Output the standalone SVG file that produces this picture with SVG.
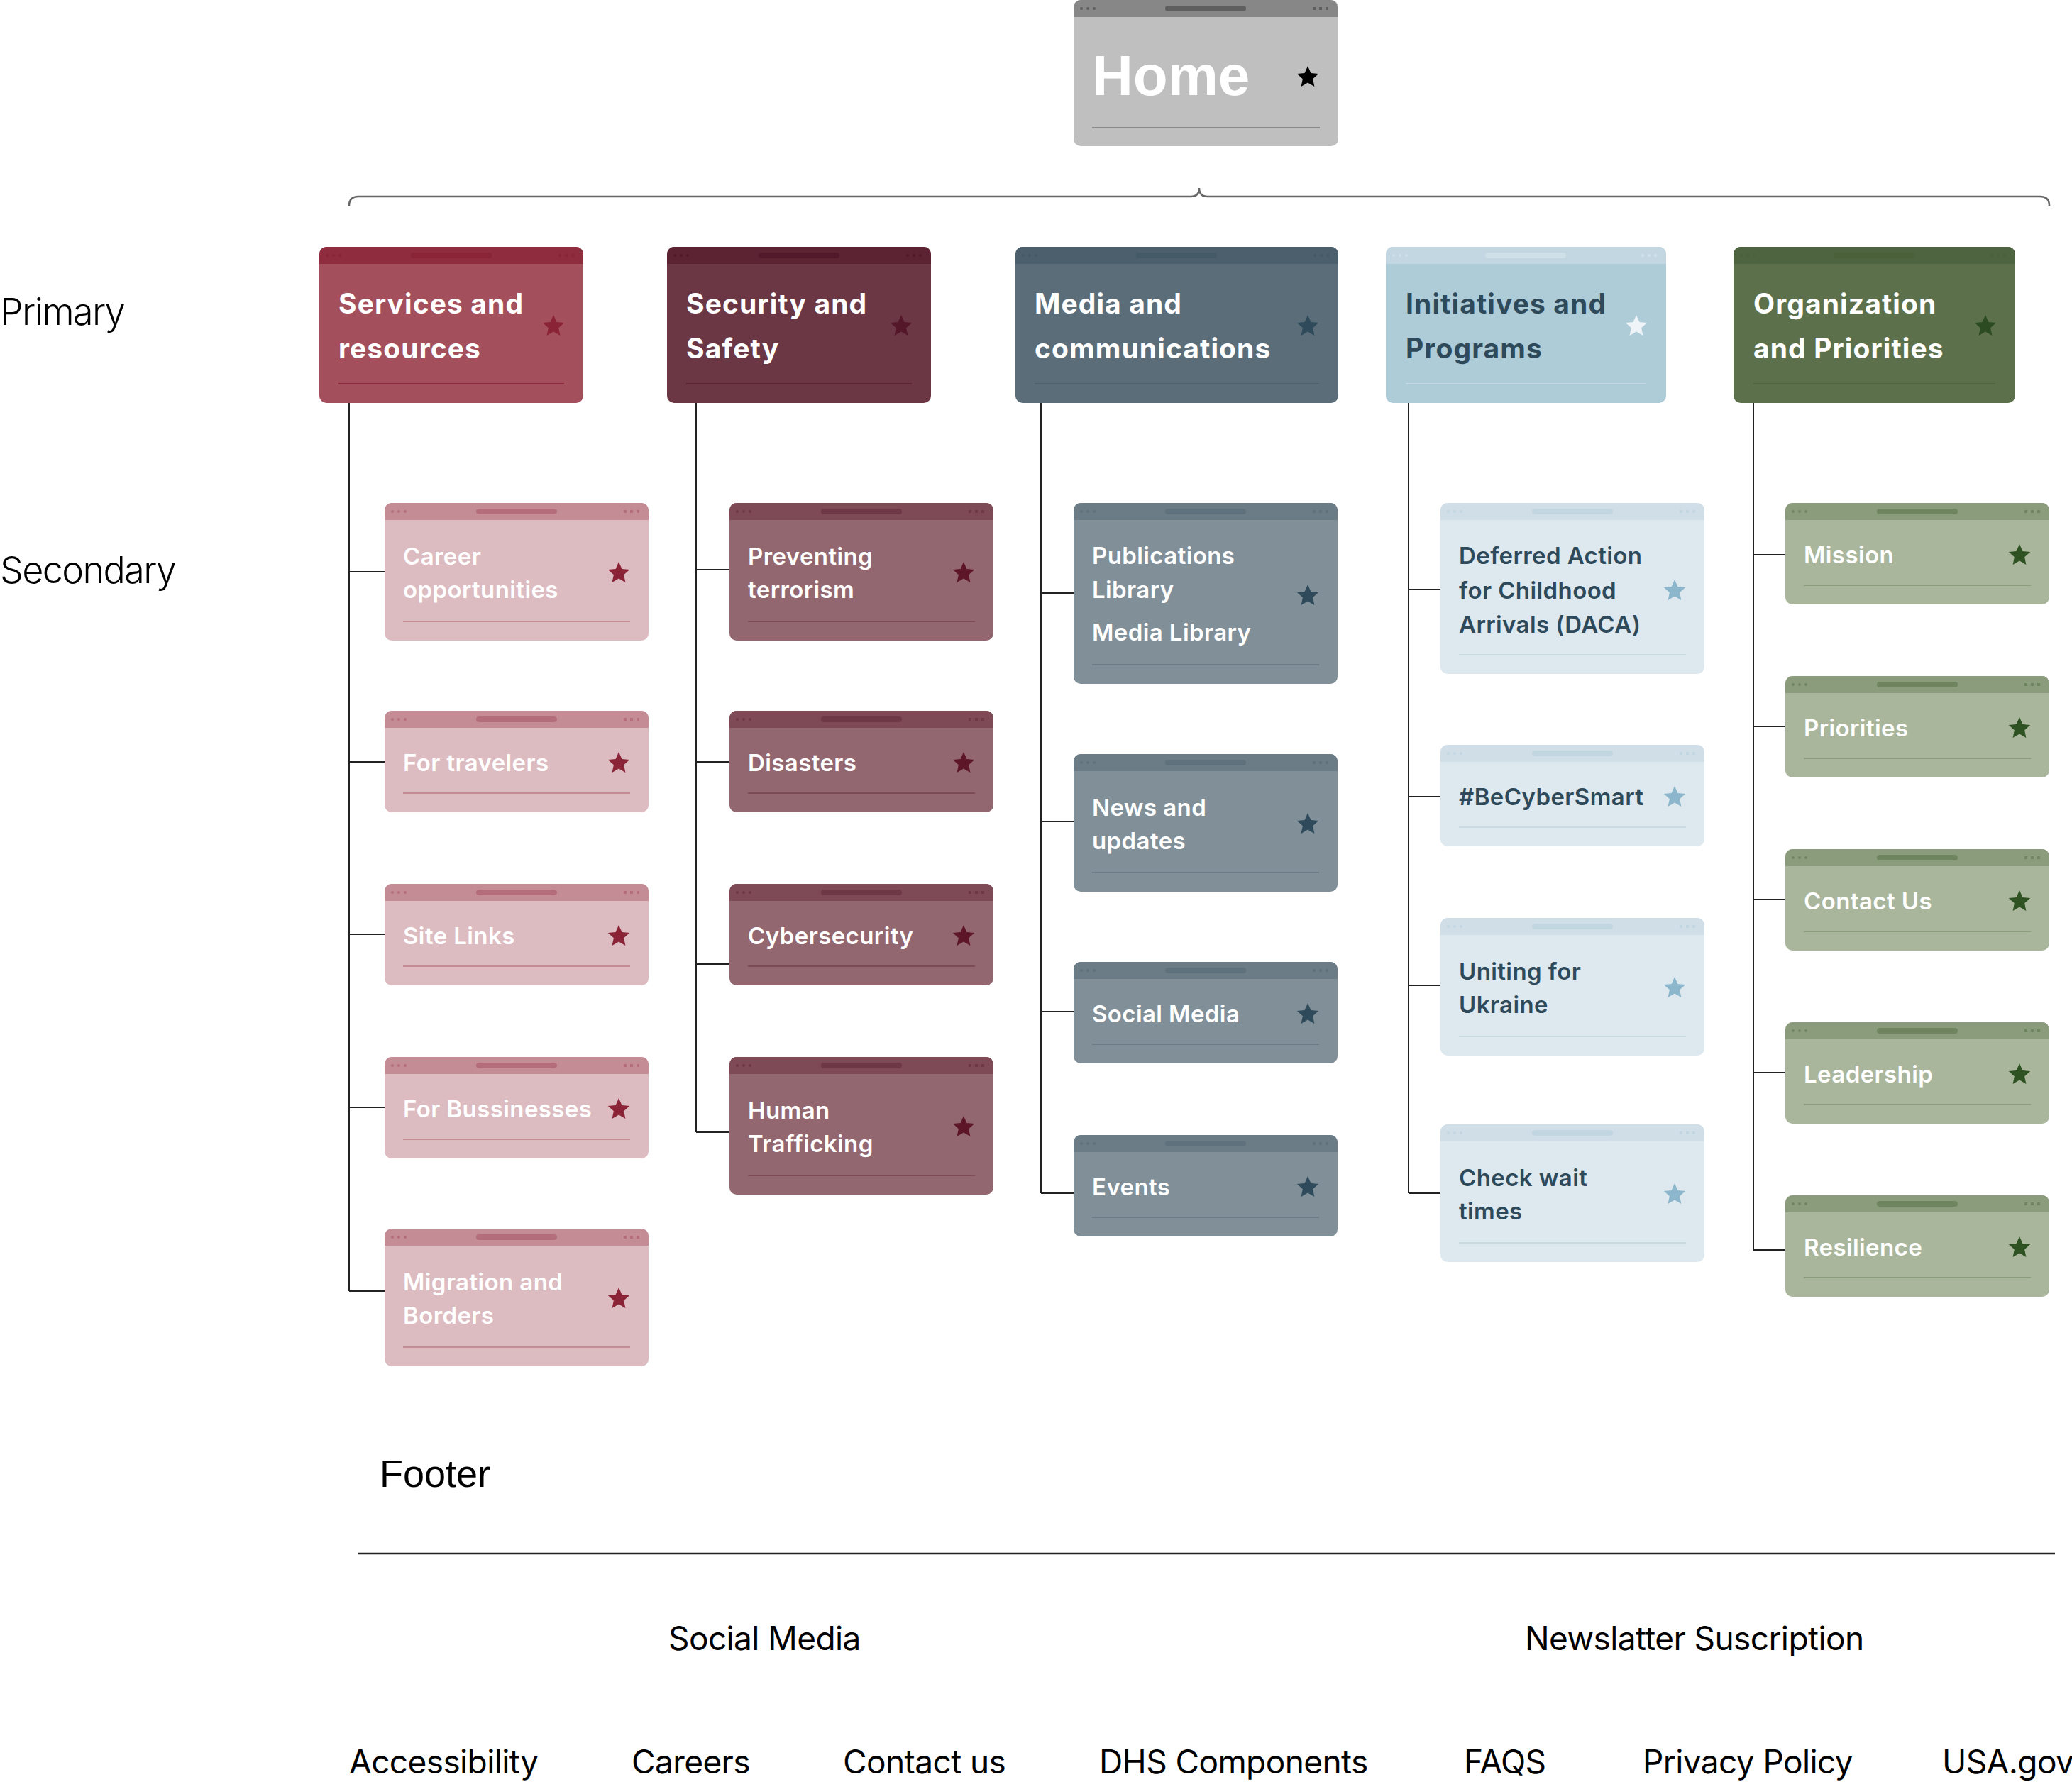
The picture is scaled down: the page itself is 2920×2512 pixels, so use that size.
<svg xmlns="http://www.w3.org/2000/svg" xmlns:xlink="http://www.w3.org/1999/xlink" width="2920" height="2512" viewBox="0 0 2920 2512">
  <style>
    .t1{font-family:Inter,"Noto Sans",sans-serif;font-weight:700;font-size:39px;letter-spacing:1.1px}
    .t2{font-family:Inter,"Noto Sans",sans-serif;font-weight:600;font-size:33px;letter-spacing:0.4px}
    .lvl{font-family:Inter,"Noto Sans",sans-serif;font-weight:300;font-size:52px;letter-spacing:-1.6px;fill:#000}
    .ft{font-family:Inter,"Noto Sans",sans-serif;font-weight:400;font-size:46px;letter-spacing:-0.6px;fill:#000}
    .fh{font-family:"Liberation Sans",Arial,sans-serif;font-size:54px;fill:#000}
    .wire{stroke:#222;stroke-width:2;fill:none}
    .dv{stroke-width:2}
    text{fill:#fff}
    /* home */
    .h .bd{fill:#bfbfbf} .h .hd{fill:#878787;color:#5f5f5f} .h .dv{stroke:#8a8a8a} .h .st{fill:#000}
    /* services */
    .p1 .bd{fill:#a34f5c} .p1 .hd{fill:#8f2c3e;color:#8a2537} .p1 .dv{stroke:#8b2a3c} .p1 .st{fill:#8b2337}
    .s1 .bd{fill:#dcbbc1} .s1 .hd{fill:#c48c95;color:#b46e7b} .s1 .dv{stroke:#c48c95} .s1 .st{fill:#8b2337}
    /* security */
    .p2 .bd{fill:#6b3745} .p2 .hd{fill:#5c2333;color:#52192a} .p2 .dv{stroke:#5c2333} .p2 .st{fill:#54172a}
    .s2 .bd{fill:#936770} .s2 .hd{fill:#7e4a56;color:#6e3846} .s2 .dv{stroke:#7e4a56} .s2 .st{fill:#5c1628}
    /* media */
    .p3 .bd{fill:#5a6d79} .p3 .hd{fill:#4b5f6c;color:#455a67} .p3 .dv{stroke:#4e6270} .p3 .st{fill:#2e4a5b}
    .s3 .bd{fill:#818f98} .s3 .hd{fill:#6b7c87;color:#5f717d} .s3 .dv{stroke:#6b7c87} .s3 .st{fill:#2e4a5b}
    /* initiatives */
    .p4 .bd{fill:#aecbd8} .p4 .hd{fill:#c2d7e1;color:#d0e0e8} .p4 .dv{stroke:#c3d8e2} .p4 .st{fill:#eef4f7} .p4 text{fill:#2e4a5a}
    .s4 .bd{fill:#dee9ef} .s4 .hd{fill:#cfdee7;color:#c2d6e1} .s4 .dv{stroke:#c9dae3} .s4 .st{fill:#8cb6cc} .s4 text{fill:#2e4a5a}
    /* organization */
    .p5 .bd{fill:#5c714b} .p5 .hd{fill:#4e6440;color:#4a6139} .p5 .dv{stroke:#50663f} .p5 .st{fill:#2d4b22}
    .s5 .bd{fill:#a9b69c} .s5 .hd{fill:#8b9c7d;color:#6f8560} .s5 .dv{stroke:#8b9c7d} .s5 .st{fill:#2e5222}
  </style>
  <defs>
    <path id="star" d="M0,-16L4.41,-6.07L15.22,-4.94L7.13,2.32L9.4,12.94L0,7.5L-9.4,12.94L-7.13,2.32L-15.22,-4.94L-4.41,-6.07Z" stroke-linejoin="round" stroke-width="1.5" style="stroke:inherit"/>
    <!-- window title bar, 372 wide -->
    <g id="chrome">
      <path d="M0,24V10A10,10 0 0 1 10,0H362A10,10 0 0 1 372,10V24Z"/>
      <rect x="129" y="8" width="114" height="8" rx="4" fill="currentColor"/>
      <g fill="currentColor">
        <circle cx="11" cy="12" r="2"/><circle cx="20" cy="12" r="2"/><circle cx="29" cy="12" r="2"/>
        <rect x="337" y="10" width="4" height="4"/><rect x="346" y="10" width="4" height="4"/><rect x="355" y="10" width="4" height="4"/>
      </g>
    </g>
  </defs>

  <!-- level labels -->
  <text class="lvl" x="0" y="458">Primary</text>
  <text class="lvl" x="0" y="822">Secondary</text>

  <!-- connectors -->
  <g id="connectors" class="wire">
    <path d="M492,290Q492,277 505,277H1678Q1690,277 1690,265Q1690,277 1702,277H2875Q2888,277 2888,290" stroke="#666" stroke-width="2.5"/>
    <path d="M492,568V1820M492,806H542M492,1074H542M492,1317H542M492,1561H542M492,1820H542"/>
    <path d="M981,568V1596M981,803H1028M981,1074H1028M981,1359H1028M981,1596H1028"/>
    <path d="M1467,568V1682M1467,836H1513M1467,1158H1513M1467,1426H1513M1467,1682H1513"/>
    <path d="M1985,568V1682M1985,831H2030M1985,1123H2030M1985,1389H2030M1985,1682H2030"/>
    <path d="M2471,568V1762M2471,782H2516M2471,1024H2516M2471,1268H2516M2471,1512H2516M2471,1762H2516"/>
  </g>

  <!-- home -->
  <g id="home" class="h" transform="translate(1513,0)">
    <rect class="bd" width="373" height="206" rx="10"/>
    <use href="#chrome" class="hd"/>
    <line class="dv" x1="26" y1="180" x2="347" y2="180"/>
    <text x="26" y="134" style="font-family:'Liberation Sans',Arial,sans-serif;font-weight:700;font-size:80px">Home</text>
    <use href="#star" class="st" x="330" y="109"/>
  </g>

  <!-- primary level -->
  <g id="p-services" class="p1" transform="translate(450,348)">
    <rect class="bd" width="372" height="220" rx="10"/>
    <use href="#chrome" class="hd"/>
    <line class="dv" x1="27" y1="193" x2="345" y2="193"/>
    <text class="t1" x="27" y="94">Services and</text>
    <text class="t1" x="27" y="157">resources</text>
    <use href="#star" class="st" x="330" y="112"/>
  </g>
  <g id="p-security" class="p2" transform="translate(940,348)">
    <rect class="bd" width="372" height="220" rx="10"/>
    <use href="#chrome" class="hd"/>
    <line class="dv" x1="27" y1="193" x2="345" y2="193"/>
    <text class="t1" x="27" y="94">Security and</text>
    <text class="t1" x="27" y="157">Safety</text>
    <use href="#star" class="st" x="330" y="112"/>
  </g>
  <g id="p-media" class="p3" transform="translate(1431,348)">
    <rect class="bd" width="455" height="220" rx="10"/>
    <g class="hd">
      <path d="M0,24V10A10,10 0 0 1 10,0H445A10,10 0 0 1 455,10V24Z"/>
      <rect x="170" y="8" width="114" height="8" rx="4" fill="currentColor"/>
      <g fill="currentColor">
        <circle cx="11" cy="12" r="2"/><circle cx="20" cy="12" r="2"/><circle cx="29" cy="12" r="2"/>
        <rect x="420" y="10" width="4" height="4"/><rect x="429" y="10" width="4" height="4"/><rect x="438" y="10" width="4" height="4"/>
      </g>
    </g>
    <line class="dv" x1="27" y1="193" x2="428" y2="193"/>
    <text class="t1" x="27" y="94">Media and</text>
    <text class="t1" x="27" y="157">communications</text>
    <use href="#star" class="st" x="412" y="112"/>
  </g>
  <g id="p-initiatives" class="p4" transform="translate(1953,348)">
    <rect class="bd" width="395" height="220" rx="10"/>
    <g class="hd">
      <path d="M0,24V10A10,10 0 0 1 10,0H385A10,10 0 0 1 395,10V24Z"/>
      <rect x="140" y="8" width="114" height="8" rx="4" fill="currentColor"/>
      <g fill="currentColor">
        <circle cx="11" cy="12" r="2"/><circle cx="20" cy="12" r="2"/><circle cx="29" cy="12" r="2"/>
        <rect x="360" y="10" width="4" height="4"/><rect x="369" y="10" width="4" height="4"/><rect x="378" y="10" width="4" height="4"/>
      </g>
    </g>
    <line class="dv" x1="28" y1="193" x2="367" y2="193"/>
    <text class="t1" x="28" y="94">Initiatives and</text>
    <text class="t1" x="28" y="157">Programs</text>
    <use href="#star" class="st" x="353" y="112"/>
  </g>
  <g id="p-organization" class="p5" transform="translate(2443,348)">
    <rect class="bd" width="397" height="220" rx="10"/>
    <g class="hd">
      <path d="M0,24V10A10,10 0 0 1 10,0H387A10,10 0 0 1 397,10V24Z"/>
      <rect x="141" y="8" width="114" height="8" rx="4" fill="currentColor"/>
      <g fill="currentColor">
        <circle cx="11" cy="12" r="2"/><circle cx="20" cy="12" r="2"/><circle cx="29" cy="12" r="2"/>
        <rect x="362" y="10" width="4" height="4"/><rect x="371" y="10" width="4" height="4"/><rect x="380" y="10" width="4" height="4"/>
      </g>
    </g>
    <line class="dv" x1="28" y1="193" x2="369" y2="193"/>
    <text class="t1" x="28" y="94">Organization</text>
    <text class="t1" x="28" y="157">and Priorities</text>
    <use href="#star" class="st" x="355" y="112"/>
  </g>

  <!-- secondary: services and resources -->
  <g id="s-career" class="s1" transform="translate(542,709)">
    <rect class="bd" width="372" height="194" rx="10"/><use href="#chrome" class="hd"/>
    <line class="dv" x1="26" y1="167" x2="346" y2="167"/>
    <text class="t2" x="26" y="87">Career</text><text class="t2" x="26" y="134">opportunities</text>
    <use href="#star" class="st" x="330" y="99"/>
  </g>
  <g id="s-travelers" class="s1" transform="translate(542,1002)">
    <rect class="bd" width="372" height="143" rx="10"/><use href="#chrome" class="hd"/>
    <line class="dv" x1="26" y1="116" x2="346" y2="116"/>
    <text class="t2" x="26" y="85">For travelers</text>
    <use href="#star" class="st" x="330" y="74"/>
  </g>
  <g id="s-sitelinks" class="s1" transform="translate(542,1246)">
    <rect class="bd" width="372" height="143" rx="10"/><use href="#chrome" class="hd"/>
    <line class="dv" x1="26" y1="116" x2="346" y2="116"/>
    <text class="t2" x="26" y="85">Site Links</text>
    <use href="#star" class="st" x="330" y="74"/>
  </g>
  <g id="s-businesses" class="s1" transform="translate(542,1490)">
    <rect class="bd" width="372" height="143" rx="10"/><use href="#chrome" class="hd"/>
    <line class="dv" x1="26" y1="116" x2="346" y2="116"/>
    <text class="t2" x="26" y="85">For Bussinesses</text>
    <use href="#star" class="st" x="330" y="74"/>
  </g>
  <g id="s-migration" class="s1" transform="translate(542,1732)">
    <rect class="bd" width="372" height="194" rx="10"/><use href="#chrome" class="hd"/>
    <line class="dv" x1="26" y1="167" x2="346" y2="167"/>
    <text class="t2" x="26" y="87">Migration and</text><text class="t2" x="26" y="134">Borders</text>
    <use href="#star" class="st" x="330" y="99"/>
  </g>

  <!-- secondary: security and safety -->
  <g id="s-terrorism" class="s2" transform="translate(1028,709)">
    <rect class="bd" width="372" height="194" rx="10"/><use href="#chrome" class="hd"/>
    <line class="dv" x1="26" y1="167" x2="346" y2="167"/>
    <text class="t2" x="26" y="87">Preventing</text><text class="t2" x="26" y="134">terrorism</text>
    <use href="#star" class="st" x="330" y="99"/>
  </g>
  <g id="s-disasters" class="s2" transform="translate(1028,1002)">
    <rect class="bd" width="372" height="143" rx="10"/><use href="#chrome" class="hd"/>
    <line class="dv" x1="26" y1="116" x2="346" y2="116"/>
    <text class="t2" x="26" y="85">Disasters</text>
    <use href="#star" class="st" x="330" y="74"/>
  </g>
  <g id="s-cyber" class="s2" transform="translate(1028,1246)">
    <rect class="bd" width="372" height="143" rx="10"/><use href="#chrome" class="hd"/>
    <line class="dv" x1="26" y1="116" x2="346" y2="116"/>
    <text class="t2" x="26" y="85">Cybersecurity</text>
    <use href="#star" class="st" x="330" y="74"/>
  </g>
  <g id="s-trafficking" class="s2" transform="translate(1028,1490)">
    <rect class="bd" width="372" height="194" rx="10"/><use href="#chrome" class="hd"/>
    <line class="dv" x1="26" y1="167" x2="346" y2="167"/>
    <text class="t2" x="26" y="87">Human</text><text class="t2" x="26" y="134">Trafficking</text>
    <use href="#star" class="st" x="330" y="99"/>
  </g>

  <!-- secondary: media and communications -->
  <g id="s-publications" class="s3" transform="translate(1513,709)">
    <rect class="bd" width="372" height="255" rx="10"/><use href="#chrome" class="hd"/>
    <line class="dv" x1="26" y1="228" x2="346" y2="228"/>
    <text class="t2" x="26" y="86">Publications</text><text class="t2" x="26" y="134">Library</text><text class="t2" x="26" y="194">Media Library</text>
    <use href="#star" class="st" x="330" y="131"/>
  </g>
  <g id="s-news" class="s3" transform="translate(1513,1063)">
    <rect class="bd" width="372" height="194" rx="10"/><use href="#chrome" class="hd"/>
    <line class="dv" x1="26" y1="167" x2="346" y2="167"/>
    <text class="t2" x="26" y="87">News and</text><text class="t2" x="26" y="134">updates</text>
    <use href="#star" class="st" x="330" y="99"/>
  </g>
  <g id="s-social" class="s3" transform="translate(1513,1356)">
    <rect class="bd" width="372" height="143" rx="10"/><use href="#chrome" class="hd"/>
    <line class="dv" x1="26" y1="116" x2="346" y2="116"/>
    <text class="t2" x="26" y="85">Social Media</text>
    <use href="#star" class="st" x="330" y="74"/>
  </g>
  <g id="s-events" class="s3" transform="translate(1513,1600)">
    <rect class="bd" width="372" height="143" rx="10"/><use href="#chrome" class="hd"/>
    <line class="dv" x1="26" y1="116" x2="346" y2="116"/>
    <text class="t2" x="26" y="85">Events</text>
    <use href="#star" class="st" x="330" y="74"/>
  </g>

  <!-- secondary: initiatives and programs -->
  <g id="s-daca" class="s4" transform="translate(2030,709)">
    <rect class="bd" width="372" height="241" rx="10"/><use href="#chrome" class="hd"/>
    <line class="dv" x1="26" y1="214" x2="346" y2="214"/>
    <text class="t2" x="26" y="86">Deferred Action</text><text class="t2" x="26" y="135">for Childhood</text><text class="t2" x="26" y="183">Arrivals (DACA)</text>
    <use href="#star" class="st" x="330" y="124"/>
  </g>
  <g id="s-becybersmart" class="s4" transform="translate(2030,1050)">
    <rect class="bd" width="372" height="143" rx="10"/><use href="#chrome" class="hd"/>
    <line class="dv" x1="26" y1="116" x2="346" y2="116"/>
    <text class="t2" x="26" y="85">#BeCyberSmart</text>
    <use href="#star" class="st" x="330" y="74"/>
  </g>
  <g id="s-ukraine" class="s4" transform="translate(2030,1294)">
    <rect class="bd" width="372" height="194" rx="10"/><use href="#chrome" class="hd"/>
    <line class="dv" x1="26" y1="167" x2="346" y2="167"/>
    <text class="t2" x="26" y="87">Uniting for</text><text class="t2" x="26" y="134">Ukraine</text>
    <use href="#star" class="st" x="330" y="99"/>
  </g>
  <g id="s-waittimes" class="s4" transform="translate(2030,1585)">
    <rect class="bd" width="372" height="194" rx="10"/><use href="#chrome" class="hd"/>
    <line class="dv" x1="26" y1="167" x2="346" y2="167"/>
    <text class="t2" x="26" y="87">Check wait</text><text class="t2" x="26" y="134">times</text>
    <use href="#star" class="st" x="330" y="99"/>
  </g>

  <!-- secondary: organization and priorities -->
  <g id="s-mission" class="s5" transform="translate(2516,709)">
    <rect class="bd" width="372" height="143" rx="10"/><use href="#chrome" class="hd"/>
    <line class="dv" x1="26" y1="116" x2="346" y2="116"/>
    <text class="t2" x="26" y="85">Mission</text>
    <use href="#star" class="st" x="330" y="74"/>
  </g>
  <g id="s-priorities" class="s5" transform="translate(2516,953)">
    <rect class="bd" width="372" height="143" rx="10"/><use href="#chrome" class="hd"/>
    <line class="dv" x1="26" y1="116" x2="346" y2="116"/>
    <text class="t2" x="26" y="85">Priorities</text>
    <use href="#star" class="st" x="330" y="74"/>
  </g>
  <g id="s-contact" class="s5" transform="translate(2516,1197)">
    <rect class="bd" width="372" height="143" rx="10"/><use href="#chrome" class="hd"/>
    <line class="dv" x1="26" y1="116" x2="346" y2="116"/>
    <text class="t2" x="26" y="85">Contact Us</text>
    <use href="#star" class="st" x="330" y="74"/>
  </g>
  <g id="s-leadership" class="s5" transform="translate(2516,1441)">
    <rect class="bd" width="372" height="143" rx="10"/><use href="#chrome" class="hd"/>
    <line class="dv" x1="26" y1="116" x2="346" y2="116"/>
    <text class="t2" x="26" y="85">Leadership</text>
    <use href="#star" class="st" x="330" y="74"/>
  </g>
  <g id="s-resilience" class="s5" transform="translate(2516,1685)">
    <rect class="bd" width="372" height="143" rx="10"/><use href="#chrome" class="hd"/>
    <line class="dv" x1="26" y1="116" x2="346" y2="116"/>
    <text class="t2" x="26" y="85">Resilience</text>
    <use href="#star" class="st" x="330" y="74"/>
  </g>

  <!-- footer -->
  <g id="footer">
    <text class="fh" x="535" y="2096">Footer</text>
    <line x1="504" y1="2190" x2="2896" y2="2190" stroke="#222" stroke-width="2.5"/>
    <text class="ft" x="942" y="2326">Social Media</text>
    <text class="ft" x="2149" y="2326">Newslatter Suscription</text>
    <text class="ft" x="492" y="2500">Accessibility</text>
    <text class="ft" x="890" y="2500">Careers</text>
    <text class="ft" x="1188" y="2500">Contact us</text>
    <text class="ft" x="1549" y="2500">DHS Components</text>
    <text class="ft" x="2063" y="2500">FAQS</text>
    <text class="ft" x="2315" y="2500">Privacy Policy</text>
    <text class="ft" x="2737" y="2500">USA.gov</text>
  </g>
</svg>
